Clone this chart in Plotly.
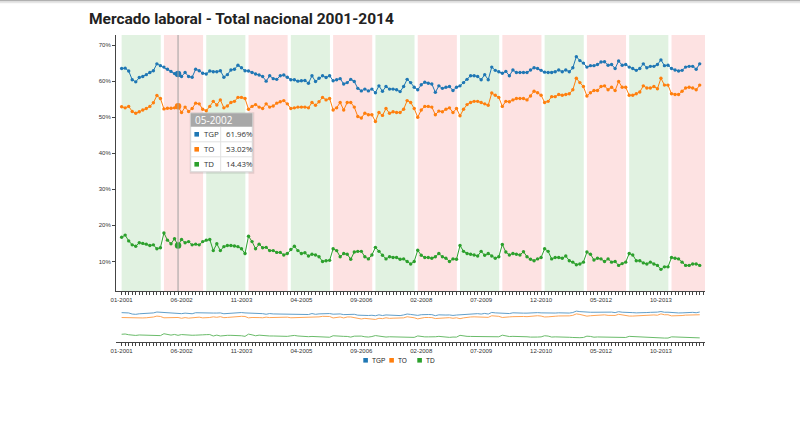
import plotly.graph_objects as go

# ---------------- data ----------------
TGP = [63.5, 63.6, 62.8, 60.4, 59.8, 61.0, 61.3, 61.8, 62.4, 62.9, 64.8, 64.3, 63.9, 63.3, 62.7, 62.1, 61.96,
       61.3, 62.4, 61.3, 61.1, 63.3, 62.9, 62.2, 62.0, 62.8, 62.6, 62.6, 62.9, 61.1, 61.8, 63.1, 63.3, 64.4,
       63.7, 62.9, 62.8, 62.4, 62.0, 61.7, 61.3, 60.0, 61.5, 60.7, 60.5, 61.5, 61.7, 61.1, 60.4, 60.4, 60.0,
       60.1, 60.2, 59.4, 61.5, 59.9, 60.8, 61.5, 61.0, 61.5, 60.1, 60.4, 60.7, 59.2, 59.6, 60.5, 59.9, 58.0,
       57.3, 57.8, 57.3, 57.8, 56.8, 58.7, 57.2, 58.5, 57.8, 57.8, 57.6, 57.1, 58.5, 60.5, 59.6, 58.3, 57.6,
       59.0, 59.7, 59.4, 59.2, 56.9, 58.7, 58.0, 58.3, 58.5, 57.4, 58.3, 58.7, 59.6, 60.5, 61.5, 61.5, 61.3,
       60.4, 61.8, 60.4, 63.9, 63.0, 62.6, 62.2, 62.7, 61.5, 63.1, 62.4, 62.4,
       62.4, 62.4, 63.1, 63.7, 63.5, 63.0, 62.5, 62.4, 62.4, 62.6, 63.1, 62.6, 63.1, 62.6, 63.7, 66.8, 65.7,
       65.0, 63.9, 64.3, 64.3, 64.6, 65.3, 65.4, 64.4, 64.6, 63.5, 65.6, 64.4, 64.6, 63.9, 63.5, 63.0, 63.5,
       64.8, 63.7, 64.1, 64.1, 64.6, 65.9, 64.3, 64.4, 63.5, 63.1, 62.8, 63.0, 63.9, 64.1, 64.1, 63.3, 64.8]

TO = [52.9, 52.6, 53.0, 51.6, 51.1, 51.5, 52.0, 52.4, 53.0, 54.0, 56.0, 55.2, 52.3, 52.5, 52.5, 52.6, 53.02,
      51.3, 52.8, 51.6, 52.4, 53.9, 53.7, 52.2, 51.8, 53.0, 54.4, 53.4, 54.8, 52.6, 53.1, 54.1, 54.4, 55.5,
      55.5, 55.2, 52.2, 53.0, 53.5, 52.8, 52.4, 53.7, 52.8, 53.1, 53.9, 54.3, 54.6, 53.7, 52.4, 52.6, 52.8,
      52.8, 52.8, 52.6, 54.1, 53.3, 54.3, 55.5, 54.8, 55.2, 52.0, 52.6, 54.1, 52.0, 54.1, 54.1, 52.8, 50.2,
      49.8, 51.1, 50.7, 50.7, 48.8, 51.3, 50.5, 52.4, 51.1, 51.5, 51.3, 51.3, 52.2, 54.6, 54.1, 52.4, 50.0,
      52.0, 53.0, 53.0, 52.8, 50.7, 51.7, 51.5, 52.2, 52.6, 51.3, 52.4, 50.4, 52.2, 53.5, 54.1, 54.4, 54.4,
      54.1, 53.7, 53.3, 56.7, 56.1, 55.5, 53.0, 54.4, 54.3, 54.8, 55.2, 55.2,
      55.2, 54.8, 55.9, 57.2, 56.8, 56.1, 54.1, 54.4, 55.7, 55.7, 56.3, 56.1, 56.3, 56.5, 57.6, 60.8, 59.6,
      58.5, 55.9, 56.8, 57.4, 57.4, 58.5, 58.7, 57.6, 58.3, 57.4, 59.9, 58.3, 58.3, 56.1, 56.1, 56.5, 57.0,
      58.7, 58.1, 58.1, 58.5, 57.9, 60.8, 58.9, 58.9, 56.5, 56.3, 56.3, 57.2, 58.1, 58.3, 58.1, 57.6, 58.9]

TD = [16.7, 17.3, 15.7, 14.6, 14.2, 15.2, 15.0, 14.8, 14.4, 14.6, 13.5, 13.8, 17.9, 15.9, 14.9, 16.3, 14.43,
      16.1, 15.2, 15.5, 14.6, 14.8, 14.6, 15.5, 15.9, 16.1, 13.0, 14.9, 13.0, 14.1, 14.4, 14.4, 14.3, 14.1,
      13.5, 12.2, 17.0, 15.5, 13.5, 14.8, 13.8, 13.9, 13.0, 13.0, 12.5, 12.5, 11.8, 12.2, 13.3, 14.2, 13.0,
      12.2, 12.4, 11.5, 12.0, 11.8, 11.3, 10.0, 10.2, 10.3, 13.5, 13.0, 11.3, 12.2, 12.0, 10.6, 12.6, 12.8,
      12.8, 11.3, 10.7, 11.8, 13.9, 12.8, 11.7, 10.7, 11.3, 11.1, 11.1, 10.6, 10.7, 10.0, 9.3, 10.0, 13.1,
      11.7, 11.1, 11.1, 10.9, 11.3, 12.2, 11.3, 10.9, 10.0, 10.7, 10.6, 14.4, 12.8, 12.2, 12.0, 11.8, 11.5,
      12.8, 11.7, 12.2, 11.5, 10.9, 11.3, 14.7, 12.6, 11.8, 12.2, 12.0, 11.8,
      12.7, 11.3, 10.6, 10.2, 10.7, 11.1, 13.5, 12.8, 10.7, 11.1, 11.1, 10.9, 11.5, 10.2, 9.8, 9.1, 9.3,
      9.8, 12.6, 12.0, 10.4, 10.9, 10.7, 10.0, 10.7, 9.8, 10.0, 8.9, 9.4, 9.8, 12.2, 11.8, 10.2, 10.2,
      9.6, 9.3, 9.8, 9.3, 8.9, 7.8, 8.5, 8.5, 11.1, 10.9, 10.7, 9.8, 8.9, 8.9, 9.3, 9.3, 8.9]

MONTHS = [f"{m:02d}-{y}" for y in range(2001, 2015) for m in range(1, 13)][:len(TGP)]
TICK_LABELS = ["01-2001", "06-2002", "11-2003", "04-2005", "09-2006",
               "02-2008", "07-2009", "12-2010", "05-2012", "10-2013"]
YEARS = list(range(2001, 2015))
SERIES = ["TGP", "TO", "TD"]
COLORS = ["#1f77b4", "#ff7f0e", "#2ca02c"]
HOVER = "05-2002"

# ---------------- layout geometry ----------------
W, H = 800, 430
ML, MR, MT, MB = 116, 95, 35, 88
PW, PH = W - ML - MR, H - MT - MB
XR = [-1.6, 165.5]
YR = [1.8, 72.8]


def px(xpix):
    return (xpix - ML) / PW


def py(ypix):
    return (H - MB - ypix) / PH


x = list(range(len(MONTHS)))
fig = go.Figure()

data = [TGP, TO, TD]
for name, vals, col in zip(SERIES, data, COLORS):
    fig.add_trace(go.Scatter(x=x, y=vals, mode="lines+markers", name=name,
                             line=dict(color=col, width=1),
                             marker=dict(color=col, size=3.4), showlegend=False,
                             xaxis="x", yaxis="y"))
# highlighted hover points
hi = MONTHS.index(HOVER)
for name, vals, col in zip(SERIES, data, COLORS):
    fig.add_trace(go.Scatter(x=[hi], y=[vals[hi]], mode="markers",
                             marker=dict(color=col, size=6.5), showlegend=False,
                             xaxis="x", yaxis="y"))
# context chart
for name, vals, col in zip(SERIES, data, COLORS):
    fig.add_trace(go.Scatter(x=x, y=vals, mode="lines", line=dict(color=col, width=1),
                             opacity=0.7, showlegend=False, xaxis="x2", yaxis="y2"))

shapes = []
# year bands
for k, yr in enumerate(YEARS):
    i0 = MONTHS.index(f"01-{yr}") if f"01-{yr}" in MONTHS else 12 * k
    x0 = i0
    x1 = min(i0 + 11.1, XR[1])
    col = "rgba(44,160,44,0.14)" if k % 2 == 0 else "rgba(240,60,60,0.15)"
    shapes.append(dict(type="rect", xref="x", yref="y domain", x0=x0, x1=x1, y0=0, y1=1,
                       fillcolor=col, line=dict(width=0), layer="below"))
# hover line
shapes.append(dict(type="line", xref="x", yref="y domain", x0=hi, x1=hi, y0=0, y1=1,
                   line=dict(color="#a0a0a0", width=1), layer="above"))

# tooltip box (pixel based overlay)
bx0, bx1 = 190.7, 252.3
by0 = 113.3
hh = 13.5
rh = 15.0
by1 = by0 + hh + 3 * rh
shapes.append(dict(type="rect", xref="paper", yref="paper", x0=px(bx0 - 1), x1=px(bx1 + 2),
                   y0=py(by1 + 2), y1=py(by0 - 1), fillcolor="rgba(0,0,0,0.10)", line=dict(width=0)))
shapes.append(dict(type="rect", xref="paper", yref="paper", x0=px(bx0), x1=px(bx1),
                   y0=py(by1), y1=py(by0), fillcolor="white", line=dict(color="#d8d8d8", width=1)))
shapes.append(dict(type="rect", xref="paper", yref="paper", x0=px(bx0), x1=px(bx1),
                   y0=py(by0 + hh), y1=py(by0), fillcolor="#a8a8a8", line=dict(width=0)))
for r in range(1, 3):
    yy = by0 + hh + r * rh
    shapes.append(dict(type="line", xref="paper", yref="paper", x0=px(bx0), x1=px(bx1),
                       y0=py(yy), y1=py(yy), line=dict(color="#e2e2e2", width=1)))
shapes.append(dict(type="line", xref="paper", yref="paper", x0=px(220.7), x1=px(220.7),
                   y0=py(by0 + hh), y1=py(by1), line=dict(color="#e2e2e2", width=1)))

annotations = []
annotations.append(dict(text=HOVER, xref="paper", yref="paper", x=px(bx0 + 1.8), y=py(by0 + hh / 2),
                        xanchor="left", yanchor="middle", showarrow=False,
                        font=dict(family="Open Sans", size=10, color="white")))
for r, (name, vals, col) in enumerate(zip(SERIES, data, COLORS)):
    cy = by0 + hh + r * rh + rh / 2
    shapes.append(dict(type="rect", xref="paper", yref="paper", x0=px(194.4), x1=px(199.0),
                       y0=py(cy + 2.3), y1=py(cy - 2.3), fillcolor=col, line=dict(width=0)))
    annotations.append(dict(text=name, xref="paper", yref="paper", x=px(202.2), y=py(cy),
                            xanchor="left", yanchor="middle", showarrow=False,
                            font=dict(family="Open Sans", size=7.9, color="#333")))
    annotations.append(dict(text=f"{vals[hi]:.2f}%", xref="paper", yref="paper", x=px(223.5), y=py(cy),
                            xanchor="left", yanchor="middle", showarrow=False,
                            font=dict(family="Open Sans", size=7.9, color="#333")))

# legend (custom)
leg_x = [363.3, 389.3, 417.3]
for lx, name, col in zip(leg_x, SERIES, COLORS):
    shapes.append(dict(type="rect", xref="paper", yref="paper", x0=px(lx), x1=px(lx + 4.6),
                       y0=py(362.6), y1=py(358.0), fillcolor=col, line=dict(width=0)))
    annotations.append(dict(text=name, xref="paper", yref="paper", x=px(lx + 6.2), y=py(360.3),
                            xanchor="left", yanchor="middle", showarrow=False,
                            font=dict(family="Liberation Sans, Arial", size=6.5, color="#222")))

# title
annotations.append(dict(text="Mercado laboral - Total nacional 2001-2014", xref="paper", yref="paper",
                        x=px(86.5), y=py(19.2), xanchor="left", yanchor="middle", showarrow=False,
                        font=dict(family="Roboto", size=15.5, color="#222", weight=700)))

# top grey bar
shapes.append(dict(type="rect", xref="paper", yref="paper", x0=px(0), x1=px(W), y0=py(1.6), y1=py(0),
                   fillcolor="#b0b0b0", line=dict(width=0)))
shapes.append(dict(type="rect", xref="paper", yref="paper", x0=px(0), x1=px(W), y0=py(3.2), y1=py(1.6),
                   fillcolor="#e6e6e6", line=dict(width=0)))

tickvals = list(range(0, 166))
ticktext = [MONTHS[i] if (i < len(MONTHS) and MONTHS[i] in TICK_LABELS) else "" for i in tickvals]

tickfont = dict(family="Liberation Sans, Arial", size=6, color="#333")
xcommon = dict(range=XR, tickmode="array", tickvals=tickvals, ticktext=ticktext,
               ticks="outside", ticklen=3, tickwidth=1, tickcolor="#444",
               showline=True, linecolor="#444", linewidth=1, showgrid=False, zeroline=False,
               tickfont=tickfont, tickangle=0)

main_bottom = py(291)
ctx_top = py(305)

fig.update_layout(
    width=W, height=H, margin=dict(l=ML, r=MR, t=MT, b=MB),
    paper_bgcolor="white", plot_bgcolor="white",
    xaxis=dict(**xcommon, anchor="y", domain=[0, 1]),
    yaxis=dict(range=YR, domain=[main_bottom, 1], anchor="x", tickmode="array",
               tickvals=[10, 20, 30, 40, 50, 60, 70],
               ticktext=["10%", "20%", "30%", "40%", "50%", "60%", "70%"],
               ticks="outside", ticklen=3, tickcolor="#444", showline=True, linecolor="#444",
               linewidth=1, showgrid=False, zeroline=False, tickfont=tickfont),
    xaxis2=dict(**xcommon, anchor="y2", domain=[0, 1]),
    yaxis2=dict(range=[0, 80], domain=[0, ctx_top], anchor="x2", visible=False),
    shapes=shapes, annotations=annotations, showlegend=False,
    hovermode=False,
)

fig.write_html("out.html")
